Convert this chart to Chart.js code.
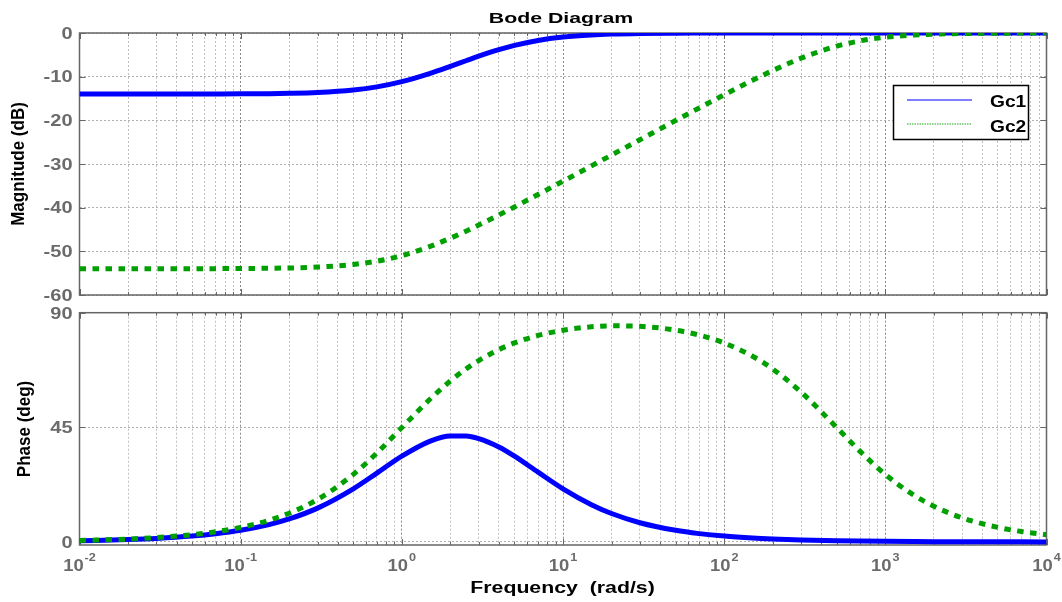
<!DOCTYPE html>
<html><head><meta charset="utf-8">
<script src="https://cdn.jsdelivr.net/npm/chart.js@4.4.1/dist/chart.umd.min.js"></script>
<style>
html,body{margin:0;padding:0;background:#fff;}
#wrap{position:relative;width:1062px;height:602px;overflow:hidden;background:#fff;}
canvas{position:absolute;left:0;}
#cMag{top:0;}
#cPh{top:306px;}
</style></head><body>
<div id="wrap"><canvas id="cMag" width="1062" height="306"></canvas><canvas id="cPh" width="1062" height="296"></canvas></div>
<script>
// ---- data ----
const frequency = [0.01,0.02,0.03,0.05,0.07,0.1,0.15,0.2,0.3,0.5,0.7,1,1.5,2,2.5,3,4,5,7,10,15,20,30,50,70,100,150,200,300,500,700,1000,1500,2000,3000,5000,7000,10000];
const gc1Magnitude = [-13.98,-13.98,-13.97,-13.97,-13.96,-13.94,-13.89,-13.82,-13.62,-13.05,-12.33,-11.14,-9.23,-7.63,-6.35,-5.31,-3.82,-2.84,-1.70,-0.93,-0.44,-0.25,-0.11,-0.04,-0.02,-0.01,0,0,0,0,0,0,0,0,0,0,0,0];
const gc2Magnitude = [-53.98,-53.98,-53.97,-53.97,-53.96,-53.94,-53.88,-53.81,-53.61,-53.01,-52.25,-50.97,-48.86,-46.99,-45.38,-43.98,-41.68,-39.83,-36.99,-33.94,-30.44,-27.95,-24.45,-20.04,-17.16,-14.15,-10.83,-8.60,-5.77,-3.01,-1.79,-0.97,-0.46,-0.26,-0.12,-0.04,-0.02,-0.01];
const gc1Phase = [0.46,0.92,1.37,2.29,3.20,4.57,6.81,9.02,13.27,20.86,27.02,33.69,39.61,41.63,41.63,40.60,37.30,33.69,27.41,20.85,14.62,11.18,7.55,4.57,3.27,2.29,1.53,1.15,0.76,0.46,0.33,0.23,0.15,0.11,0.08,0.05,0.03,0.02];
const gc2Phase = [0.57,1.14,1.71,2.86,4.00,5.70,8.51,11.29,16.67,26.51,34.91,44.89,56.14,63.20,67.91,71.22,75.50,78.12,81.07,83.14,84.47,84.85,84.66,83.14,81.21,78.12,72.92,67.91,58.85,44.89,35.46,26.51,18.39,14.01,9.44,5.70,4.08,2.85];
const seriesNames = ['Gc1','Gc2'];
const magTicks = [0,-10,-20,-30,-40,-50,-60];
const phaseTicks = [0,45,90];
const decadeTicks = [0.01,0.1,1,10,100,1000,10000];
const decadeExponents = ['-2','-1','0','1','2','3','4'];
const titleText = 'Bode Diagram';
const magTitle = 'Magnitude (dB)';
const phaseTitle = 'Phase (deg)';
const freqTitle = 'Frequency  (rad/s)';

// ---- styling ----
const BLUE = '#0000ff', GREEN = '#00a000';
const TICK_GREY = '#6b6b6b', AXIS_GREY = '#666666';
const FONT = '"Liberation Sans", Arial, Helvetica, sans-serif';
const PH_TOP = 306; // page offset of the phase canvas

const gridTicks = [];
for (let i = 0; i < decadeTicks.length - 1; i++) {
  for (let m = 1; m <= 9; m++) gridTicks.push(parseFloat((decadeTicks[i] * m).toPrecision(6)));
}
gridTicks.push(decadeTicks[decadeTicks.length - 1]);

function txt(ctx, s, x, y, o) {
  ctx.save();
  ctx.font = o.font; ctx.fillStyle = o.color || '#000';
  ctx.textAlign = o.align || 'left'; ctx.textBaseline = o.baseline || 'alphabetic';
  ctx.translate(x, y);
  if (o.rotate) { ctx.rotate(-Math.PI / 2); ctx.scale(1, o.sx || 1); }
  else ctx.scale(o.sx || 1, 1);
  ctx.fillText(s, 0, 0);
  ctx.restore();
}

function pts(ys) { return frequency.map((f, i) => ({ x: f, y: ys[i] })); }

function datasets(a, b) {
  return [
    { label: seriesNames[0], data: pts(a), borderColor: BLUE, borderWidth: 5, order: 1,
      pointRadius: 0, cubicInterpolationMode: 'monotone', fill: false },
    { label: seriesNames[1], data: pts(b), borderColor: GREEN, borderWidth: 5, order: 0,
      borderDash: [6.5, 6.5], borderCapStyle: 'butt', pointRadius: 0, cubicInterpolationMode: 'monotone', fill: false }
  ];
}

function makeOptions(yMin, yMax, yTickVals, padding) {
  return {
    responsive: false, animation: false, events: [],
    layout: { padding },
    plugins: { legend: { display: false }, tooltip: { enabled: false }, title: { display: false } },
    scales: {
      x: { type: 'logarithmic', min: 0.01, max: 10000,
        afterBuildTicks: s => { s.ticks = gridTicks.map(v => ({ value: v, major: decadeTicks.includes(v) })); },
        afterFit: s => { s.height = 0; },
        ticks: { display: false, autoSkip: false },
        grid: { drawTicks: false, lineWidth: 1, color: c => (c.tick && c.tick.major) ? '#8a8a8a' : '#c0c0c0' },
        border: { display: false, dash: [2, 2] } },
      y: { type: 'linear', min: yMin, max: yMax,
        afterBuildTicks: s => { s.ticks = yTickVals.map(v => ({ value: v })); },
        afterFit: s => { s.width = 79.5; },
        ticks: { display: false },
        grid: { drawTicks: false, lineWidth: 1, color: '#b0b0b0' },
        border: { display: false, dash: [2, 2] } }
    }
  };
}

function frame(chart) {
  const ctx = chart.ctx, a = chart.chartArea, xs = chart.scales.x, ys = chart.scales.y;
  ctx.save();
  ctx.strokeStyle = AXIS_GREY; ctx.lineWidth = 1;
  ctx.beginPath();
  xs.ticks.forEach(t => {
    const px = Math.round(xs.getPixelForValue(t.value)) + 0.5;
    const L = t.major ? 6 : 3;
    ctx.moveTo(px, a.bottom); ctx.lineTo(px, a.bottom - L);
    ctx.moveTo(px, a.top); ctx.lineTo(px, a.top + L);
  });
  ys.ticks.forEach(t => {
    const py = Math.round(ys.getPixelForValue(t.value)) + 0.5;
    ctx.moveTo(a.left, py); ctx.lineTo(a.left + 6, py);
    ctx.moveTo(a.right, py); ctx.lineTo(a.right - 6, py);
  });
  ctx.stroke();
  ctx.lineWidth = 1.5;
  ctx.strokeRect(a.left, a.top, a.right - a.left, a.bottom - a.top);
  ctx.restore();
}

function yLabels(chart, vals) {
  const ctx = chart.ctx, ys = chart.scales.y;
  vals.forEach(v => {
    txt(ctx, String(v), 72.5, ys.getPixelForValue(v) + 5.8,
      { font: 'bold 16px ' + FONT, color: TICK_GREY, align: 'right', sx: 1.25 });
  });
}

const magPlugin = {
  id: 'magDecor',
  beforeDatasetsDraw(chart) { frame(chart); },
  afterDraw(chart) {
    const ctx = chart.ctx;
    yLabels(chart, magTicks);
    txt(ctx, titleText, 561, 22.7, { font: 'bold 15px ' + FONT, align: 'center', sx: 1.42 });
    txt(ctx, magTitle, 19, 164, { font: 'bold 17px ' + FONT, align: 'center', baseline: 'middle', rotate: true, sx: 1.1 });
    // legend box
    ctx.save();
    ctx.fillStyle = '#fff'; ctx.fillRect(893.5, 85.5, 135, 54);
    ctx.strokeStyle = '#000'; ctx.lineWidth = 1.5; ctx.strokeRect(893.5, 85.5, 135, 54);
    ctx.lineWidth = 2; ctx.strokeStyle = 'rgba(0,0,255,0.5)';
    ctx.beginPath(); ctx.moveTo(907, 100); ctx.lineTo(972, 100); ctx.stroke();
    ctx.lineWidth = 1.5; ctx.strokeStyle = 'rgba(0,160,0,0.6)'; ctx.setLineDash([1.5, 1]);
    ctx.beginPath(); ctx.moveTo(907, 124); ctx.lineTo(972, 124); ctx.stroke();
    ctx.restore();
    txt(ctx, seriesNames[0], 990, 107.3, { font: 'bold 16px ' + FONT, sx: 1.2 });
    txt(ctx, seriesNames[1], 990, 131.7, { font: 'bold 16px ' + FONT, sx: 1.2 });
  }
};

const phPlugin = {
  id: 'phDecor',
  beforeDatasetsDraw(chart) { frame(chart); },
  afterDraw(chart) {
    const ctx = chart.ctx, xs = chart.scales.x;
    yLabels(chart, phaseTicks);
    const baseFont = 'bold 16px ' + FONT, expFont = 'bold 11px ' + FONT, sx = 1.15;
    decadeTicks.forEach((v, i) => {
      const px = xs.getPixelForValue(v);
      ctx.save(); ctx.font = baseFont; const wb = ctx.measureText('10').width * sx;
      ctx.font = expFont; const we = ctx.measureText(decadeExponents[i]).width * sx; ctx.restore();
      const x0 = px - (wb + 1 + we) / 2;
      txt(ctx, '10', x0, 570.5 - PH_TOP, { font: baseFont, color: TICK_GREY, sx });
      txt(ctx, decadeExponents[i], x0 + wb + 1, 560.5 - PH_TOP, { font: expFont, color: TICK_GREY, sx });
    });
    txt(ctx, freqTitle, 562.5, 593.3 - PH_TOP, { font: 'bold 16px ' + FONT, align: 'center', sx: 1.33 });
    txt(ctx, phaseTitle, 25, 429 - PH_TOP, { font: 'bold 17px ' + FONT, align: 'center', baseline: 'middle', rotate: true, sx: 1.1 });
  }
};

new Chart(document.getElementById('cMag'), {
  type: 'line',
  data: { datasets: datasets(gc1Magnitude, gc2Magnitude) },
  options: makeOptions(-60, 0, magTicks, { top: 33, right: 15.5, bottom: 11, left: 0 }),
  plugins: [magPlugin]
});

new Chart(document.getElementById('cPh'), {
  type: 'line',
  data: { datasets: datasets(gc1Phase, gc2Phase) },
  options: makeOptions(-1.2, 90, phaseTicks, { top: 312.7 - PH_TOP, right: 15.5, bottom: 296 - (545 - PH_TOP), left: 0 }),
  plugins: [phPlugin]
});
</script>
</body></html>
